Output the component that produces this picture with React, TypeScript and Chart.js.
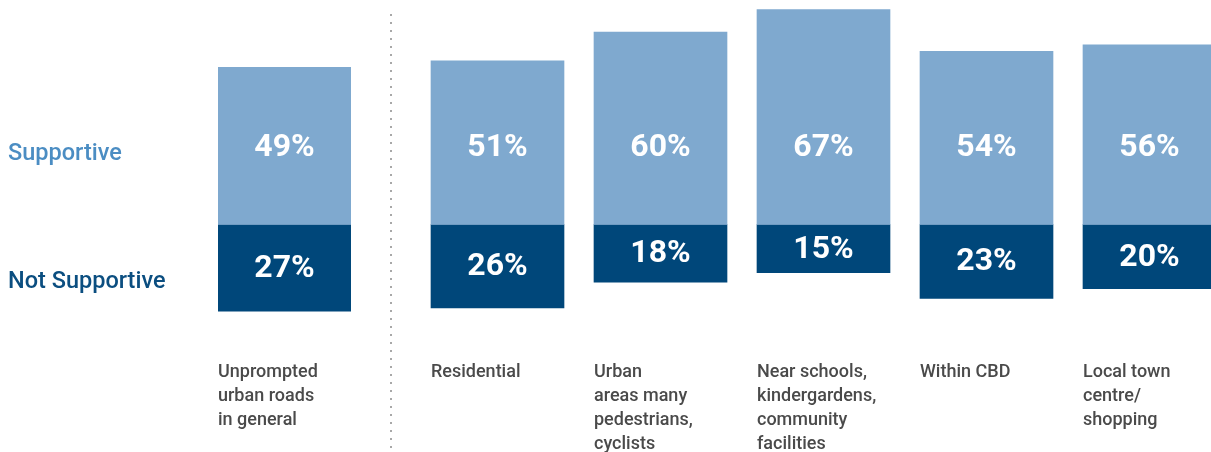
import React, { useEffect, useRef } from "react";
import { Chart, registerables } from "chart.js";

Chart.register(...registerables);

// ---- Data ----
const firstCategory: string[][] = [["Unprompted", "urban roads", "in general"]];
const firstSupportive: number[] = [49];
const firstNotSupportive: number[] = [27];

const categories: string[][] = [
  ["Residential"],
  ["Urban", "areas many", "pedestrians,", "cyclists"],
  ["Near schools,", "kindergardens,", "community", "facilities"],
  ["Within CBD"],
  ["Local town", "centre/", "shopping"],
];
const supportive: number[] = [51, 60, 67, 54, 56];
const notSupportive: number[] = [26, 18, 15, 23, 20];

const seriesNames = ["Supportive", "Not Supportive"];

// ---- Style ----
const LIGHT = "#7fa9cf";
const DARK = "#00477a";
const LEGEND_LIGHT = "#4b8dc3";
const LEGEND_DARK = "#0b4e80";
const CAT_COLOR = "#4a4a4a";
const Y_MIN = -33.5;
const Y_MAX = 70;
const SUPPORT_LABEL_LEVEL = 24.3;
const LEGEND_SUPPORT_LEVEL = 22;
const LEGEND_NOT_LEVEL = -18;

const valueLabels = {
  id: "valueLabels",
  afterDatasetsDraw(chart: any) {
    const ctx = chart.ctx;
    const y = chart.scales.y;
    ctx.save();
    ctx.fillStyle = "#ffffff";
    ctx.font = "bold 32px Roboto";
    ctx.textAlign = "center";
    ctx.textBaseline = "middle";
    chart.data.datasets.forEach((ds: any, di: number) => {
      const meta = chart.getDatasetMeta(di);
      meta.data.forEach((bar: any, i: number) => {
        const v = ds.data[i];
        let py: number;
        if (v >= 0) py = y.getPixelForValue(SUPPORT_LABEL_LEVEL);
        else py = (y.getPixelForValue(0) + y.getPixelForValue(v)) / 2;
        ctx.fillText(Math.abs(v) + "%", bar.x, py + 1);
      });
    });
    ctx.restore();
  },
};

const legendAndDivider = {
  id: "legendAndDivider",
  afterDraw(chart: any) {
    const ctx = chart.ctx;
    const y = chart.scales.y;
    ctx.save();
    ctx.font = "500 23.5px Roboto";
    ctx.textAlign = "left";
    ctx.textBaseline = "middle";
    ctx.fillStyle = LEGEND_LIGHT;
    ctx.fillText(seriesNames[0], 8, y.getPixelForValue(LEGEND_SUPPORT_LEVEL));
    ctx.fillStyle = LEGEND_DARK;
    ctx.fillText(seriesNames[1], 8, y.getPixelForValue(LEGEND_NOT_LEVEL));
    // dotted divider
    ctx.fillStyle = "#a8a8a8";
    const dx = chart.width - 2;
    for (let py = 14; py <= 447; py += 8) {
      ctx.fillRect(dx, py, 2, 2);
    }
    ctx.restore();
  },
};

function makeConfig(labels: string[][], sup: number[], notSup: number[], padL: number, padR: number, extra: any[]) {
  return {
    type: "bar" as const,
    data: {
      labels,
      datasets: [
        { label: seriesNames[0], data: sup, backgroundColor: LIGHT, barThickness: 133, borderWidth: 0 },
        { label: seriesNames[1], data: notSup.map((v) => -v), backgroundColor: DARK, barThickness: 133, borderWidth: 0 },
      ],
    },
    options: {
      animation: false as const,
      responsive: false,
      maintainAspectRatio: false,
      layout: { padding: { left: padL, right: padR, top: 0, bottom: 0 } },
      plugins: { legend: { display: false }, tooltip: { enabled: false } },
      scales: {
        x: {
          stacked: true,
          offset: true,
          grid: { display: false, drawTicks: false },
          border: { display: false },
          afterFit: (scale: any) => {
            scale.height = 120;
            scale.paddingLeft = 0;
            scale.paddingRight = 0;
          },
          ticks: {
            align: "start" as const,
            labelOffset: -66.5,
            padding: 28,
            maxRotation: 0,
            autoSkip: false,
            color: CAT_COLOR,
            font: { family: "Roboto", size: 18, weight: 500 as any, lineHeight: 24 / 18 },
          },
        },
        y: {
          display: false,
          stacked: true,
          min: Y_MIN,
          max: Y_MAX,
        },
      },
    },
    plugins: extra,
  };
}

export default function App() {
  const ref1 = useRef<HTMLCanvasElement>(null);
  const ref2 = useRef<HTMLCanvasElement>(null);
  useEffect(() => {
    const c1 = new Chart(ref1.current!, makeConfig(firstCategory, firstSupportive, firstNotSupportive, 218, 41, [valueLabels, legendAndDivider]) as any);
    const c2 = new Chart(ref2.current!, makeConfig(categories, supportive, notSupportive, 24, 1, [valueLabels]) as any);
    return () => {
      c1.destroy();
      c2.destroy();
    };
  }, []);
  return (
    <div style={{ position: "absolute", left: 0, top: 0, width: 1211, height: 452, overflow: "hidden", background: "#fff" }}>
      <canvas ref={ref1} width={392} height={452} style={{ position: "absolute", left: 0, top: 0, width: 392, height: 452 }} />
      <canvas ref={ref2} width={840} height={452} style={{ position: "absolute", left: 392, top: 0, width: 840, height: 452 }} />
    </div>
  );
}
